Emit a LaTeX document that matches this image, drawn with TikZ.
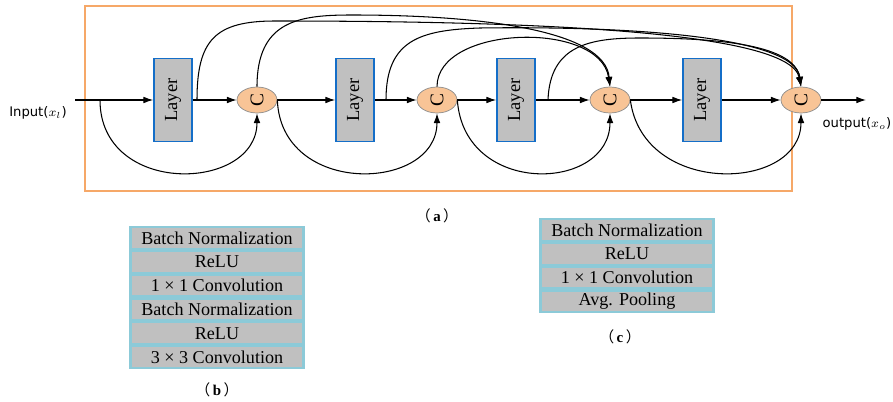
\documentclass[tikz,border=0pt]{standalone}
\usepackage{amsmath}
\usepackage{fontspec}
\setmainfont{Liberation Serif}
\newfontfamily\labelfont{DejaVu Sans}
\newfontfamily\cjk{Noto Sans CJK SC}
\usetikzlibrary{arrows.meta,positioning,shapes.geometric}
\definecolor{frameorange}{RGB}{246,168,104}
\definecolor{cfill}{RGB}{248,196,150}
\definecolor{layerblue}{RGB}{20,110,200}
\definecolor{boxgray}{RGB}{192,192,192}
\definecolor{cellblue}{RGB}{140,202,216}

\begin{document}
\begin{tikzpicture}[x=0.02cm,y=-0.02cm,
  layer/.style = {draw=layerblue, line width=1pt, fill=boxgray, minimum width=0.76cm, minimum height=1.66cm, inner sep=0pt},
  cat/.style = {draw=black!45, fill=cfill, ellipse, minimum width=0.8cm, minimum height=0.52cm, inner sep=0pt},
  cell/.style = {draw=cellblue, line width=1.2pt, fill=boxgray, minimum width=3.46cm, minimum height=0.434cm, inner sep=0pt, font=\fontsize{10.3}{12}\selectfont},
  caption/.style = {font=\fontsize{8.5}{10}\selectfont},
  arr/.style = {-{Latex[length=5.5pt,width=3.8pt]}, line width=0.6pt}]
\useasboundingbox (0,0) rectangle (893,402);
\draw[frameorange, line width=1.1pt] (85,6) rectangle (792,191);

\node[layer] (l1) at (173,100) {\rotatebox{90}{\fontsize{10.5}{12}\selectfont Layer}};
\node[cat] (c1) at (257,100) {\rotatebox{90}{\fontsize{11}{12}\selectfont C}};
\node[layer] (l2) at (355,100) {\rotatebox{90}{\fontsize{10.5}{12}\selectfont Layer}};
\node[cat] (c2) at (437,100) {\rotatebox{90}{\fontsize{11}{12}\selectfont C}};
\node[layer] (l3) at (516,100) {\rotatebox{90}{\fontsize{10.5}{12}\selectfont Layer}};
\node[cat] (c3) at (610,100) {\rotatebox{90}{\fontsize{11}{12}\selectfont C}};
\node[layer] (l4) at (702,100) {\rotatebox{90}{\fontsize{10.5}{12}\selectfont Layer}};
\node[cat] (c4) at (801,100) {\rotatebox{90}{\fontsize{11}{12}\selectfont C}};

\node[font=\labelfont\fontsize{7.5}{9}\selectfont] (in) at (38,113) {Input($x_l$)};
\node[font=\labelfont\fontsize{7.5}{9}\selectfont] (out) at (857,124) {output($x_o$)};
\coordinate (start) at (75,100);
\coordinate (end) at (866,100);
\coordinate (s0) at (100,100);
\coordinate (s1) at (197,100);
\coordinate (s3) at (386,100);
\coordinate (s5) at (548,100);

% main chain
\draw[arr] (start) -- (l1);
\draw[arr] (l1) -- (c1);
\draw[arr] (c1) -- (l2);
\draw[arr] (l2) -- (c2);
\draw[arr] (c2) -- (l3);
\draw[arr] (l3) -- (c3);
\draw[arr] (c3) -- (l4);
\draw[arr] (l4) -- (c4);
\draw[arr] (c4) -- (end);

% lower skips
\draw[arr] (s0) .. controls (100,197) and (257,192) .. (c1.south);
\draw[arr] (c1.east) .. controls (281,197) and (437,192) .. (c2.south);
\draw[arr] (c2.east) .. controls (464,197) and (610,192) .. (c3.south);
\draw[arr] (c3.east) .. controls (643,197) and (801,192) .. (c4.south);

% upper skips
\draw[arr] (s1) .. controls (197,40) and (215,21) .. (275,21) .. controls (520,21) and (790,30) .. (c4.north);
\draw[arr] (c1.north) .. controls (257,20) and (300,15) .. (352,15) .. controls (480,15) and (605,30) .. (c3.north);
\draw[arr] (s3) .. controls (386,40) and (420,30) .. (480,28) .. controls (620,26) and (795,35) .. (c4.north);
\draw[arr] (c2.north) .. controls (437,25) and (600,20) .. (c3.north);
\draw[arr] (s5) .. controls (550,45) and (590,38) .. (640,38) .. controls (720,38) and (795,45) .. (c4.north);

\node[caption] (capa) at (437,216) {{\cjk （}\,\textbf{\rmfamily a}\,{\cjk ）}};

% block (b)
\node[cell] (b1) at (217,238) {Batch Normalization};
\node[cell] (b2) [below=0pt of b1] {ReLU};
\node[cell] (b3) [below=0pt of b2] {1 × 1 Convolution};
\node[cell] (b4) [below=0pt of b3] {Batch Normalization};
\node[cell] (b5) [below=0pt of b4] {ReLU};
\node[cell] (b6) [below=0pt of b5] {3 × 3 Convolution};
\node[caption] (capb) at (217,390) {{\cjk （}\,\textbf{\rmfamily b}\,{\cjk ）}};

% block (c)
\node[cell] (t1) at (627,230) {Batch Normalization};
\node[cell] (t2) [below=0pt of t1] {ReLU};
\node[cell] (t3) [below=0pt of t2] {1 × 1 Convolution};
\node[cell] (t4) [below=0pt of t3] {Avg. Pooling};
\node[caption] (capc) at (620,337) {{\cjk （}\,\textbf{\rmfamily c}\,{\cjk ）}};
\end{tikzpicture}
\end{document}
